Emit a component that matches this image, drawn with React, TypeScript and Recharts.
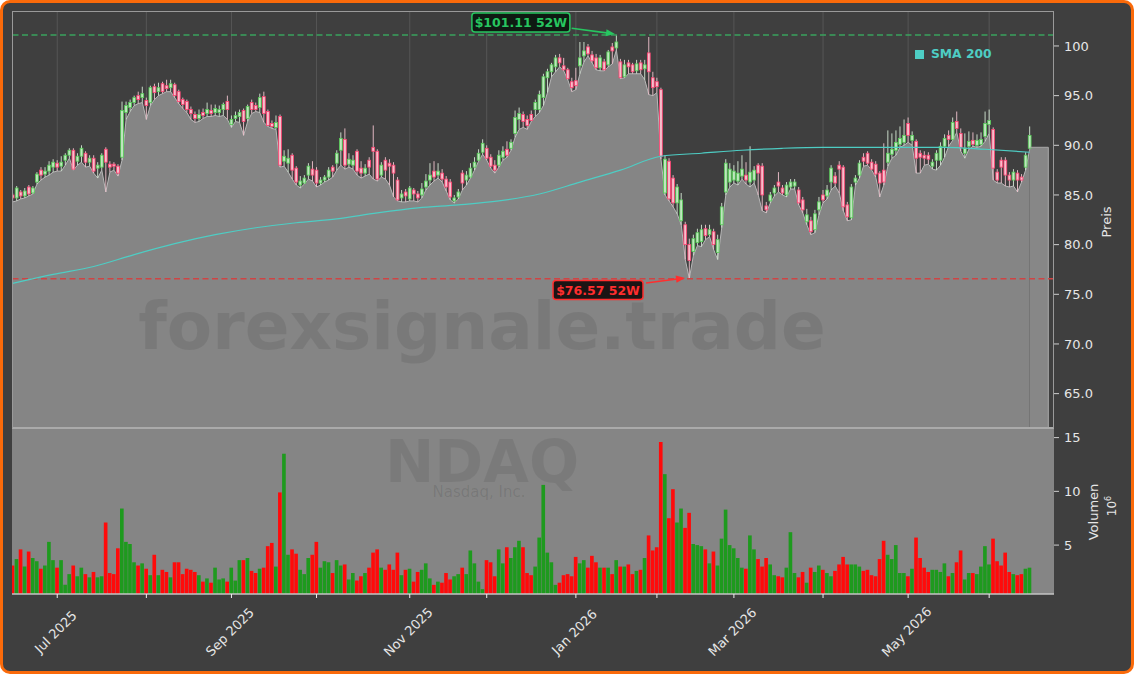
import React from "react";
import {
  ComposedChart,
  Bar,
  Area,
  Line,
  XAxis,
  YAxis,
  CartesianGrid,
  ReferenceLine,
  ReferenceArea,
  ReferenceDot,
  Cell,
} from "recharts";

// daily bars, index 0 = mid June 2025, last = mid June 2026
const lows = [
  84.3, 84.4, 84.6, 84.7, 84.9, 85.1, 86.1, 86.5, 86.8, 87.0,
  87.3, 87.4, 87.4, 88.0, 88.7, 87.5, 88.0, 88.3, 87.8, 87.9,
  87.2, 86.7, 87.5, 85.3, 87.3, 87.5, 86.9, 88.5, 92.6, 93.4,
  94.0, 94.2, 94.3, 92.6, 94.0, 94.6, 95.0, 95.2, 95.4, 95.4,
  94.8, 94.2, 93.7, 93.3, 92.6, 92.3, 92.4, 92.7, 92.9, 92.9,
  93.0, 92.9, 93.0, 92.6, 91.8, 92.4, 92.3, 91.0, 92.4, 93.2,
  93.4, 93.3, 92.3, 91.9, 91.7, 91.6, 87.8, 87.9, 87.3, 86.6,
  86.0, 85.7, 86.1, 86.6, 86.4, 85.8, 86.0, 86.3, 86.5, 86.8,
  87.5, 88.0, 87.6, 87.8, 87.6, 87.0, 86.7, 86.9, 87.1, 86.6,
  86.4, 86.8, 86.6, 86.0, 84.8, 84.4, 84.3, 84.3, 84.4, 84.4,
  84.3, 84.7, 85.5, 86.0, 86.4, 86.7, 86.3, 85.4, 84.5, 84.2,
  84.6, 85.5, 86.0, 86.7, 87.5, 88.4, 89.1, 88.5, 87.7, 87.2,
  87.8, 88.5, 88.8, 89.5, 90.8, 91.6, 91.8, 91.6, 92.4, 92.9,
  93.3, 94.0, 95.3, 96.9, 97.4, 97.9, 97.5, 96.6, 95.4, 95.6,
  97.2, 98.4, 99.0, 98.3, 97.6, 97.5, 97.5, 97.9, 98.2, 99.6,
  96.7, 96.8, 97.2, 97.2, 97.2, 97.2, 96.6, 95.1, 95.0, 95.3,
  88.6, 85.0, 84.4, 83.8, 83.1, 82.0, 78.5, 76.57, 78.9, 79.9,
  79.8, 80.5, 80.8, 79.5, 78.5, 81.7, 85.0, 85.8, 86.2, 86.0,
  86.6, 86.1, 85.8, 86.2, 85.0, 83.4, 83.2, 84.2, 84.9, 85.3,
  85.0, 84.8, 85.6, 85.6, 84.0, 83.2, 82.0, 81.0, 81.2, 83.0,
  84.2, 84.6, 85.5, 85.9, 85.2, 83.4, 82.4, 82.5, 86.0, 86.7,
  87.9, 88.0, 87.5, 86.8, 84.8, 86.0, 87.9, 88.7, 89.0, 89.8,
  90.0, 90.3, 90.0, 87.2, 87.2, 88.0, 88.1, 87.6, 87.5, 88.0,
  88.8, 89.9, 90.5, 91.3, 89.4, 88.7, 89.6, 89.9, 89.8, 89.9,
  90.4, 91.2, 86.5, 86.2, 86.2, 85.9, 85.8, 85.9, 85.3, 86.3,
  87.5, 89.6,
];

const opens = [
  85.0, 84.7, 85.3, 84.9, 85.8, 85.2, 86.3, 87.5, 87.1, 87.4,
  87.8, 88.2, 87.9, 88.5, 89.0, 89.5, 88.4, 88.9, 89.2, 88.3,
  88.7, 87.7, 87.8, 89.6, 88.1, 88.1, 87.9, 88.8, 93.3, 93.8,
  94.3, 95.0, 94.8, 94.5, 94.3, 95.9, 95.4, 96.2, 96.0, 95.8,
  96.1, 95.4, 94.6, 94.4, 93.6, 93.1, 92.7, 93.3, 93.2, 93.5,
  93.3, 93.3, 93.6, 94.4, 92.1, 92.7, 92.9, 93.5, 92.7, 94.3,
  94.0, 93.8, 94.9, 93.4, 92.2, 91.8, 92.9, 88.4, 88.2, 89.0,
  87.7, 86.0, 86.2, 87.0, 87.6, 87.5, 86.2, 86.5, 86.8, 87.8,
  88.2, 89.5, 90.6, 88.1, 88.0, 89.4, 87.7, 87.2, 88.5, 89.8,
  89.4, 87.0, 88.5, 88.2, 88.0, 86.5, 84.7, 85.3, 84.6, 85.5,
  85.1, 85.0, 85.8, 86.5, 87.4, 87.0, 87.2, 86.6, 86.3, 84.4,
  84.8, 87.2, 86.5, 86.8, 87.8, 88.5, 89.3, 89.7, 88.8, 88.0,
  88.0, 88.8, 89.6, 89.7, 91.2, 92.6, 93.1, 92.6, 93.1, 93.6,
  93.6, 94.8, 96.8, 97.4, 97.9, 98.8, 98.0, 97.6, 96.4, 96.5,
  98.0, 99.0, 99.9, 99.1, 98.8, 97.8, 98.4, 98.1, 99.9, 99.8,
  98.4, 96.9, 98.3, 98.1, 97.5, 98.3, 97.7, 99.3, 96.8, 96.4,
  95.6, 85.2, 88.4, 86.7, 84.2, 82.4, 82.0, 80.0, 79.3, 80.2,
  80.3, 81.6, 81.0, 81.3, 79.2, 82.0, 85.3, 86.3, 86.5, 86.4,
  86.9, 87.0, 86.3, 86.5, 88.0, 87.9, 83.9, 84.4, 85.2, 86.3,
  85.7, 85.0, 85.8, 85.9, 85.5, 84.5, 82.3, 82.4, 81.5, 83.5,
  85.0, 84.9, 86.3, 86.9, 88.0, 87.8, 84.0, 82.7, 86.3, 87.0,
  88.8, 89.2, 88.3, 88.1, 87.2, 87.5, 88.3, 89.1, 89.5, 90.1,
  90.3, 92.2, 90.5, 90.4, 89.2, 89.0, 89.0, 87.9, 88.5, 88.5,
  89.9, 91.0, 90.6, 92.4, 91.2, 89.2, 89.9, 90.5, 90.0, 90.1,
  90.9, 92.1, 91.6, 87.3, 88.5, 88.5, 87.0, 86.5, 87.2, 86.8,
  87.8, 89.7,
];

const closes = [
  84.7, 85.7, 84.9, 85.4, 85.1, 85.7, 87.1, 87.0, 87.4, 88.0,
  88.3, 87.8, 88.3, 89.0, 89.5, 87.6, 88.9, 89.7, 88.3, 88.7,
  87.4, 88.0, 89.0, 88.3, 87.8, 87.9, 87.2, 93.5, 94.0, 94.3,
  94.8, 94.6, 95.2, 94.0, 95.8, 95.3, 95.8, 95.4, 95.7, 96.2,
  95.0, 94.4, 94.1, 93.6, 93.2, 92.7, 93.1, 93.0, 93.6, 93.2,
  93.7, 93.6, 94.1, 93.6, 92.6, 93.0, 93.3, 92.4, 93.9, 93.6,
  93.6, 94.8, 93.2, 92.0, 91.9, 92.3, 88.0, 88.9, 88.7, 87.5,
  86.3, 86.4, 86.7, 87.9, 87.0, 86.2, 86.5, 86.8, 87.5, 87.4,
  89.2, 90.7, 88.0, 88.6, 88.5, 87.4, 87.2, 87.7, 87.8, 89.4,
  86.6, 88.0, 87.5, 87.9, 87.2, 84.5, 85.1, 84.9, 85.7, 85.1,
  84.7, 85.6, 86.4, 87.0, 86.8, 87.4, 86.6, 85.8, 84.8, 84.7,
  85.3, 86.2, 87.0, 87.7, 88.3, 89.2, 90.2, 88.7, 87.9, 87.5,
  89.0, 89.4, 89.0, 90.3, 92.8, 93.2, 92.4, 92.0, 92.5, 94.3,
  95.1, 96.9, 97.4, 98.1, 98.8, 98.3, 97.6, 96.7, 95.8, 96.0,
  98.8, 99.5, 99.2, 98.5, 97.8, 98.8, 97.6, 99.4, 99.5, 100.4,
  96.8, 98.1, 97.9, 97.4, 98.2, 97.6, 98.1, 97.4, 95.8, 95.9,
  88.9, 88.6, 84.6, 84.2, 85.8, 84.5, 80.0, 78.4, 80.6, 81.2,
  81.5, 80.9, 81.5, 80.0, 80.5, 83.8, 88.2, 87.6, 87.4, 87.2,
  87.6, 86.5, 87.3, 87.5, 87.2, 85.0, 83.5, 85.0, 85.7, 85.9,
  85.2, 86.0, 86.3, 86.3, 84.2, 83.5, 83.0, 81.3, 83.1, 84.3,
  84.5, 85.5, 87.7, 86.2, 87.6, 83.8, 82.8, 85.8, 86.7, 88.2,
  88.4, 88.2, 87.6, 87.1, 86.2, 86.3, 89.2, 89.6, 90.3, 90.7,
  91.0, 91.0, 91.0, 88.7, 88.8, 88.7, 88.6, 88.3, 89.2, 89.9,
  90.7, 90.6, 92.3, 91.7, 89.8, 89.7, 90.4, 90.1, 90.5, 90.6,
  92.2, 92.5, 87.7, 86.5, 87.8, 87.0, 86.5, 87.3, 86.5, 86.5,
  89.0, 91.0,
];

const highs = [
  85.2, 85.9, 85.5, 85.7, 86.0, 85.9, 87.3, 87.8, 87.8, 88.4,
  88.6, 88.5, 88.9, 89.2, 89.7, 89.7, 89.2, 90.0, 89.4, 89.0,
  89.0, 88.3, 89.2, 89.8, 88.4, 88.3, 88.1, 94.4, 94.4, 94.6,
  95.0, 95.4, 95.9, 94.8, 96.0, 96.2, 96.3, 96.4, 96.6, 96.6,
  96.3, 95.6, 94.8, 94.6, 93.9, 93.4, 93.6, 93.7, 94.3, 94.1,
  94.1, 94.0, 94.3, 95.0, 93.0, 93.4, 93.6, 93.7, 94.1, 94.6,
  94.3, 95.2, 95.4, 93.6, 92.5, 93.0, 93.1, 89.5, 89.6, 89.2,
  87.9, 86.9, 87.0, 88.2, 88.4, 87.8, 86.8, 87.0, 87.8, 88.0,
  89.5, 91.3, 91.7, 89.2, 89.0, 89.6, 88.4, 88.1, 88.8, 92.0,
  89.6, 88.3, 88.8, 88.6, 88.3, 86.8, 85.5, 85.6, 85.9, 85.7,
  85.4, 86.2, 87.1, 88.2, 88.4, 88.2, 87.6, 86.9, 86.6, 85.0,
  85.6, 87.5, 87.4, 88.2, 88.8, 89.6, 90.6, 90.0, 89.1, 88.5,
  89.5, 89.9, 90.4, 90.6, 93.5, 93.8, 93.4, 93.0, 93.5, 94.6,
  95.5, 97.2, 97.7, 98.3, 99.1, 99.2, 98.8, 97.8, 96.8, 97.8,
  100.4, 100.4, 100.2, 99.5, 99.2, 99.1, 98.7, 99.6, 100.3, 101.11,
  98.7, 98.6, 98.6, 98.3, 98.6, 98.6, 98.6, 100.9, 97.4, 96.8,
  95.8, 89.0, 88.7, 87.0, 86.1, 85.2, 82.3, 80.6, 81.0, 81.6,
  82.0, 82.0, 82.0, 81.6, 81.0, 84.2, 88.6, 88.2, 88.0, 88.4,
  89.0, 88.3, 89.9, 87.9, 88.2, 88.2, 84.3, 85.3, 86.0, 87.3,
  86.0, 86.3, 86.6, 86.6, 85.8, 84.8, 83.6, 82.8, 83.5, 84.8,
  85.5, 86.0, 88.0, 87.3, 88.4, 88.0, 84.3, 86.1, 87.0, 88.5,
  89.2, 89.4, 88.6, 88.4, 87.4, 90.2, 91.5, 91.2, 91.5, 91.9,
  92.6, 92.8, 91.4, 90.6, 89.5, 89.4, 89.3, 88.6, 89.5, 90.3,
  91.1, 91.5, 92.8, 93.4, 91.7, 91.2, 91.4, 91.3, 91.1, 91.3,
  93.4, 93.6, 91.8, 87.6, 88.8, 88.8, 87.3, 87.6, 87.5, 87.1,
  89.3, 91.9,
];

// millions of shares
const volumes = [
  3.1, 3.7, 4.6, 3.0, 4.4, 3.8, 3.5, 2.8, 3.1, 5.3,
  3.6, 2.9, 3.6, 1.3, 2.3, 3.1, 2.1, 2.9, 2.3, 2.0,
  2.5, 2.0, 2.1, 7.1, 2.4, 2.3, 4.7, 8.4, 5.3, 5.1,
  3.4, 3.1, 3.3, 2.8, 2.2, 4.1, 2.2, 2.7, 2.5, 2.0,
  3.4, 3.4, 2.3, 2.8, 2.7, 2.5, 2.2, 1.6, 1.9, 1.5,
  2.9, 1.8, 1.9, 1.6, 2.9, 1.7, 3.6, 3.6, 3.8, 2.6,
  2.4, 2.8, 2.9, 4.9, 5.2, 3.0, 9.9, 13.5, 4.1, 4.6,
  4.2, 2.7, 2.3, 3.8, 4.1, 5.3, 2.9, 3.5, 3.4, 2.4,
  3.6, 3.1, 3.2, 1.8, 2.4, 1.7, 2.1, 2.4, 2.9, 4.3,
  4.6, 2.9, 2.7, 3.2, 2.7, 4.3, 2.2, 2.7, 2.8, 1.6,
  2.5, 2.7, 3.3, 1.9, 1.3, 1.6, 1.5, 2.4, 1.8, 2.1,
  2.3, 2.9, 2.3, 4.5, 3.3, 1.6, 0.9, 3.6, 3.4, 2.1,
  4.6, 3.3, 4.8, 3.8, 4.8, 5.4, 4.8, 2.4, 2.2, 3.0,
  5.7, 10.6, 4.3, 3.4, 1.3, 1.5, 2.2, 2.3, 2.1, 3.9,
  3.3, 3.6, 2.9, 4.0, 3.4, 2.9, 2.9, 2.9, 2.3, 3.6,
  3.0, 3.0, 3.2, 2.3, 2.6, 2.7, 3.8, 5.9, 4.5, 4.8,
  14.6, 11.6, 7.5, 10.2, 7.1, 8.4, 6.6, 8.0, 5.1, 5.0,
  4.9, 4.6, 3.3, 4.4, 3.1, 5.6, 8.3, 5.0, 4.7, 3.8,
  2.9, 2.8, 5.9, 4.6, 3.7, 3.0, 3.8, 3.2, 2.2, 2.1,
  2.0, 2.9, 6.2, 2.4, 2.0, 2.5, 1.5, 2.9, 2.5, 3.1,
  2.7, 2.4, 2.1, 2.6, 3.2, 3.9, 3.2, 3.2, 3.2, 3.0,
  2.6, 2.7, 2.2, 2.1, 3.7, 5.4, 4.1, 3.7, 5.0, 2.4,
  2.4, 2.1, 2.8, 5.7, 3.8, 2.9, 2.5, 2.7, 2.7, 2.5,
  3.3, 2.1, 2.4, 3.4, 4.5, 1.8, 2.4, 2.4, 2.3, 3.0,
  4.9, 3.2, 5.6, 3.5, 3.1, 4.3, 2.5, 2.3, 2.2, 2.3,
  2.8, 2.9,
];

// SMA 200 read at every tenth bar
const smaIdx = [0, 10, 20, 30, 40, 50, 60, 70, 80, 90, 100, 110, 120, 130, 140, 150, 160, 170, 180, 190, 200, 210, 220, 230, 240, 251];
const smaVals = [76.1, 77.0, 77.8, 79.0, 80.1, 81.0, 81.7, 82.2, 82.6, 83.2, 83.7, 84.0, 84.4, 85.1, 86.3, 87.5, 88.9, 89.2, 89.5, 89.7, 89.8, 89.8, 89.8, 89.8, 89.6, 89.3];

const monthTicks = [11, 33, 54, 75, 98, 117, 139, 159, 178, 200, 221, 241];
const monthLabels = ["Jul 2025", "", "Sep 2025", "", "Nov 2025", "", "Jan 2026", "", "Mar 2026", "", "May 2026", ""];
const priceTicks = [65, 70, 75, 80, 85, 90, 95, 100];
const volTicks = [5, 10, 15];

const HIGH_52W = 101.11;
const HIGH_IDX = 149;
const LOW_52W = 76.57;
const LOW_IDX = 167;
const LAST_LEVEL = 89.8;
const LAST_IDX = 251;
const LAST_END = 255.6;

const xDomain = [-0.16, 257.0];
const priceDomain = [61.54, 103.52];
const volDomain = [0.45, 15.8];

const FONT = "DejaVu Sans";
const BG = "#3f3f3f";
const PANEL_GREY = "#858585";
const TXT = "#e6e6e6";
const UP = "#1e9a1e";
const DOWN = "#ff0a0a";
const SMA = "#4ecdc4";

const rows = lows.map((l, i) => ({
  i,
  low: l,
  open: opens[i],
  close: closes[i],
  high: highs[i],
  range: [l, highs[i]],
  vol: volumes[i],
  sma: null as number | null,
}));
smaIdx.forEach((idx, k) => {
  rows[idx].sma = smaVals[k];
});

function Candle(props: any) {
  const { x, y, width, height, payload } = props;
  if (!payload) return null;
  const { open, close, high, low } = payload;
  const span = high - low || 1;
  const py = (v: number) => y + ((high - v) / span) * height;
  const cx = x + width / 2;
  const up = close >= open;
  const top = py(Math.max(open, close));
  const bot = py(Math.min(open, close));
  return (
    <g>
      <line x1={cx} x2={cx} y1={y} y2={y + height} stroke={up ? "#d6ead6" : "#f2c4cf"} strokeWidth={0.9} />
      <rect
        x={cx - 1.4}
        y={top}
        width={2.8}
        height={Math.max(bot - top, 1)}
        fill={up ? "#bfe6bf" : "#f6bfcc"}
        stroke={up ? "#55cc55" : "#ff4070"}
        strokeWidth={0.8}
      />
    </g>
  );
}

function arrowHead(x1: number, y1: number, x2: number, y2: number) {
  const dx = x2 - x1;
  const dy = y2 - y1;
  const len = Math.sqrt(dx * dx + dy * dy);
  const ux = dx / len;
  const uy = dy / len;
  const bx = x2 - ux * 9;
  const by = y2 - uy * 9;
  const px = -uy * 3.6;
  const py = ux * 3.6;
  return `${x2},${y2} ${bx + px},${by + py} ${bx - px},${by - py}`;
}

function Marker52W(props: any) {
  const { cx, cy, text, color, fill, box, start, tip, w } = props;
  const tx = cx + tip[0];
  const ty = cy + tip[1];
  const sx = cx + start[0];
  const sy = cy + start[1];
  return (
    <g>
      <line x1={sx} y1={sy} x2={tx - (tx - sx) * 0.15} y2={ty - (ty - sy) * 0.15} stroke={color} strokeWidth={1.6} />
      <polygon points={arrowHead(sx, sy, tx, ty)} fill={color} />
      <rect x={cx + box[0] - w / 2} y={cy + box[1] - 9.5} width={w} height={19} rx={3} fill={fill} stroke={color} strokeWidth={1.5} />
      <text
        x={cx + box[0]}
        y={cy + box[1]}
        textAnchor="middle"
        dominantBaseline="central"
        fill={color}
        fontSize={12.5}
        fontWeight="bold"
        fontFamily={FONT}
      >
        {text}
      </text>
    </g>
  );
}

function MonthTick(props: any) {
  const { x, y, payload } = props;
  const k = monthTicks.indexOf(payload.value);
  const label = monthLabels[k];
  if (!label) return null;
  const cx = x - 1.5;
  const cy = y + 32;
  return (
    <text
      x={cx}
      y={cy}
      transform={`rotate(-45 ${cx} ${cy})`}
      textAnchor="middle"
      dominantBaseline="central"
      fill={TXT}
      fontSize={13}
      fontFamily={FONT}
    >
      {label}
    </text>
  );
}

const abs = (left: number, top: number, extra: React.CSSProperties = {}): React.CSSProperties => ({
  position: "absolute",
  left,
  top,
  pointerEvents: "none",
  fontFamily: FONT,
  ...extra,
});

export default function App() {
  return (
    <div style={{ position: "absolute", left: 0, top: 0, width: 1134, height: 674, overflow: "hidden" }}>
      <div
        style={{
          position: "absolute",
          left: 0,
          top: 0,
          width: 1134,
          height: 674,
          boxSizing: "border-box",
          border: "3px solid #fa6a0a",
          borderRadius: 10,
          background: BG,
        }}
      />

      {/* price panel */}
      <div style={{ position: "absolute", left: 0, top: 0 }}>
        <ComposedChart width={1134} height={430} data={rows} margin={{ top: 11, right: 0, bottom: 2, left: 12 }}>
          <CartesianGrid
            stroke="#5c5c5c"
            strokeWidth={0.8}
            horizontalValues={priceTicks}
            verticalValues={monthTicks}
          />
          <XAxis dataKey="i" type="number" domain={xDomain} allowDataOverflow hide />
          <YAxis
            yAxisId="p"
            orientation="right"
            width={80}
            domain={priceDomain}
            allowDataOverflow
            ticks={priceTicks}
            tickFormatter={(v: number) => (v === 100 ? "100" : v.toFixed(1))}
            tick={{ fill: TXT, fontSize: 13, fontFamily: FONT }}
            tickLine={{ stroke: "#cfcfcf" }}
            axisLine={false}
            tickSize={5}
            tickMargin={5}
          />
          <Area
            yAxisId="p"
            dataKey="low"
            type="linear"
            stroke="#b8b8b8"
            strokeWidth={1}
            fill={PANEL_GREY}
            fillOpacity={1}
            baseValue={priceDomain[0]}
            isAnimationActive={false}
          />
          <ReferenceArea
            yAxisId="p"
            x1={LAST_IDX}
            x2={LAST_END}
            y1={priceDomain[0]}
            y2={LAST_LEVEL}
            fill="#878787"
            fillOpacity={1}
            stroke="none"
          />
          <ReferenceLine
            yAxisId="p"
            segment={[{ x: LAST_IDX, y: LAST_LEVEL }, { x: LAST_END, y: LAST_LEVEL }]}
            stroke="#a8a8a8"
            strokeWidth={1}
          />
          <ReferenceLine
            yAxisId="p"
            segment={[{ x: LAST_END, y: LAST_LEVEL }, { x: LAST_END, y: priceDomain[0] }]}
            stroke="#a8a8a8"
            strokeWidth={1}
          />
          <ReferenceLine yAxisId="p" y={HIGH_52W} stroke="#3aa35e" strokeWidth={1.6} strokeDasharray="6 3.5" />
          <ReferenceLine yAxisId="p" y={LOW_52W} stroke="#cf4444" strokeWidth={1.6} strokeDasharray="6 3.5" />
          <Line
            yAxisId="p"
            dataKey="sma"
            type="monotone"
            connectNulls
            stroke={SMA}
            strokeWidth={1.2}
            dot={false}
            isAnimationActive={false}
          />
          <Bar yAxisId="p" dataKey="range" barSize={4} shape={<Candle />} isAnimationActive={false} />
          <ReferenceDot
            yAxisId="p"
            x={HIGH_IDX}
            y={HIGH_52W}
            r={0}
            shape={(p: any) => (
              <Marker52W
                {...p}
                text="$101.11 52W"
                color="#27c660"
                fill="#0e1a12"
                box={[-95.5, -12.5]}
                start={[-44.7, -6.7]}
                tip={[-1.4, -1]}
                w={98}
              />
            )}
          />
          <ReferenceDot
            yAxisId="p"
            x={LOW_IDX}
            y={LOW_52W}
            r={0}
            shape={(p: any) => (
              <Marker52W
                {...p}
                text="$76.57 52W"
                color="#ff2e2e"
                fill="#1c1414"
                box={[-91.3, 11.3]}
                start={[-43.3, 4.3]}
                tip={[-4.3, -0.7]}
                w={90}
              />
            )}
          />
        </ComposedChart>
      </div>

      {/* volume panel */}
      <div style={{ position: "absolute", left: 0, top: 429 }}>
        <ComposedChart width={1134} height={245} data={rows} margin={{ top: 0, right: 0, bottom: 0, left: 12 }}>
          <CartesianGrid fill={PANEL_GREY} horizontal={false} vertical={false} />
          <XAxis
            dataKey="i"
            type="number"
            domain={xDomain}
            allowDataOverflow
            ticks={monthTicks}
            interval={0}
            height={80}
            tick={<MonthTick />}
            tickLine={{ stroke: "#f0f0f0" }}
            axisLine={{ stroke: "#c4c4c4", strokeWidth: 1.5 }}
            tickSize={4}
          />
          <YAxis
            orientation="right"
            width={80}
            domain={volDomain}
            allowDataOverflow
            ticks={volTicks}
            tick={{ fill: TXT, fontSize: 13, fontFamily: FONT }}
            tickLine={{ stroke: "#cfcfcf" }}
            axisLine={false}
            tickSize={5}
            tickMargin={5}
          />
          <Bar dataKey="vol" barSize={4.15} isAnimationActive={false}>
            {rows.map((r) => (
              <Cell key={r.i} fill={r.close >= r.open ? UP : DOWN} />
            ))}
          </Bar>
        </ComposedChart>
      </div>

      {/* panel frame */}
      <div
        style={abs(12, 11, {
          width: 1042,
          height: 418,
          boxSizing: "border-box",
          borderTop: "1px solid #9a9a9a",
          borderLeft: "1px solid #9a9a9a",
          borderRight: "1px solid #9a9a9a",
          borderBottom: "2px solid #aaaaaa",
        })}
      />

      {/* watermarks */}
      <div style={abs(0, 302, { width: 964, textAlign: "center", fontSize: 66, fontWeight: "bold", color: "rgba(0,0,0,0.085)", lineHeight: "50px" })}>
        forexsignale.trade
      </div>
      <div style={abs(0, 438, { width: 964, textAlign: "center", fontSize: 59, fontWeight: "bold", color: "rgba(0,0,0,0.08)", lineHeight: "48px" })}>
        NDAQ
      </div>
      <div style={abs(0, 486, { width: 958, textAlign: "center", fontSize: 15, color: "rgba(0,0,0,0.1)", lineHeight: "12px" })}>
        Nasdaq, Inc.
      </div>

      {/* legend */}
      <div style={abs(915, 47, { display: "flex", alignItems: "center", color: SMA, fontWeight: "bold", fontSize: 12.3 })}>
        <span style={{ display: "inline-block", width: 9, height: 9, background: SMA, marginRight: 7 }} />
        SMA 200
      </div>

      {/* axis titles */}
      <div style={abs(1106, 222, { color: TXT, fontSize: 13, transform: "translate(-50%, -50%) rotate(-90deg)", whiteSpace: "nowrap" })}>
        Preis
      </div>
      <div style={abs(1093, 512, { color: TXT, fontSize: 13, transform: "translate(-50%, -50%) rotate(-90deg)", whiteSpace: "nowrap" })}>
        Volumen
      </div>
      <div style={abs(1111, 506, { color: TXT, fontSize: 12, transform: "translate(-50%, -50%) rotate(-90deg)", whiteSpace: "nowrap" })}>
        10<sup style={{ fontSize: 8 }}>6</sup>
      </div>
    </div>
  );
}
